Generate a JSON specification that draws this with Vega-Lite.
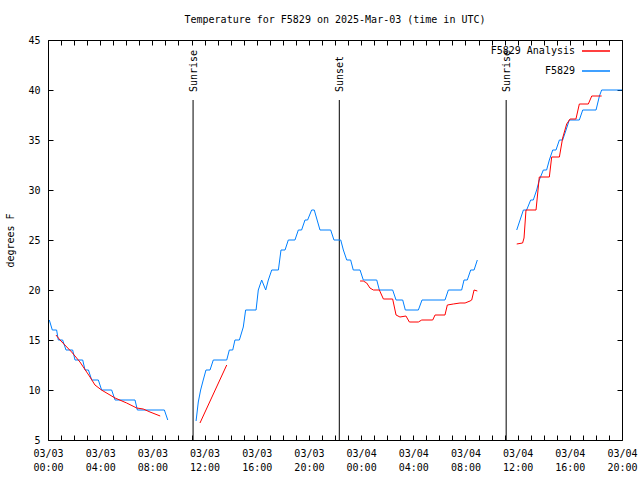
{
  "$schema": "https://vega.github.io/schema/vega-lite/v6.json",
  "width": 574,
  "height": 400,
  "autosize": {"type": "none"},
  "padding": {"left": 48, "top": 40, "right": 18, "bottom": 40},
  "title": {"text": "Temperature for F5829 on 2025-Mar-03 (time in UTC)", "offset": 10},
  "config": {
    "font": "DejaVu Sans Mono",
    "view": {"stroke": "black", "strokeWidth": 1},
    "axis": {"domainColor": "black", "tickColor": "black", "labelColor": "black", "titleColor": "black", "labelFont": "DejaVu Sans Mono", "titleFont": "DejaVu Sans Mono", "labelFontSize": 10, "titleFontSize": 10, "titleFontWeight": "normal", "grid": false},
    "legend": {"labelFont": "DejaVu Sans Mono", "labelFontSize": 10, "labelColor": "black"},
    "title": {"font": "DejaVu Sans Mono", "fontSize": 10, "fontWeight": "normal", "color": "black"}
  },
  "datasets": {
    "temps": [
      {"hour": 0.10, "temp": 17, "series": "F5829", "seg": "b1"},
      {"hour": 0.33, "temp": 16, "series": "F5829", "seg": "b1"},
      {"hour": 0.66, "temp": 16, "series": "F5829", "seg": "b1"},
      {"hour": 0.79, "temp": 15, "series": "F5829", "seg": "b1"},
      {"hour": 1.12, "temp": 15, "series": "F5829", "seg": "b1"},
      {"hour": 1.38, "temp": 14, "series": "F5829", "seg": "b1"},
      {"hour": 1.89, "temp": 14, "series": "F5829", "seg": "b1"},
      {"hour": 2.07, "temp": 13, "series": "F5829", "seg": "b1"},
      {"hour": 2.66, "temp": 13, "series": "F5829", "seg": "b1"},
      {"hour": 2.84, "temp": 12, "series": "F5829", "seg": "b1"},
      {"hour": 3.10, "temp": 12, "series": "F5829", "seg": "b1"},
      {"hour": 3.35, "temp": 11, "series": "F5829", "seg": "b1"},
      {"hour": 3.86, "temp": 11, "series": "F5829", "seg": "b1"},
      {"hour": 4.11, "temp": 10, "series": "F5829", "seg": "b1"},
      {"hour": 4.88, "temp": 10, "series": "F5829", "seg": "b1"},
      {"hour": 5.14, "temp": 9, "series": "F5829", "seg": "b1"},
      {"hour": 6.67, "temp": 9, "series": "F5829", "seg": "b1"},
      {"hour": 6.85, "temp": 8, "series": "F5829", "seg": "b1"},
      {"hour": 8.92, "temp": 8, "series": "F5829", "seg": "b1"},
      {"hour": 9.18, "temp": 7, "series": "F5829", "seg": "b1"},
      {"hour": 11.35, "temp": 6.9, "series": "F5829", "seg": "b2"},
      {"hour": 11.52, "temp": 8.8, "series": "F5829", "seg": "b2"},
      {"hour": 11.70, "temp": 10, "series": "F5829", "seg": "b2"},
      {"hour": 11.90, "temp": 11, "series": "F5829", "seg": "b2"},
      {"hour": 12.11, "temp": 12, "series": "F5829", "seg": "b2"},
      {"hour": 12.42, "temp": 12, "series": "F5829", "seg": "b2"},
      {"hour": 12.67, "temp": 13, "series": "F5829", "seg": "b2"},
      {"hour": 13.70, "temp": 13, "series": "F5829", "seg": "b2"},
      {"hour": 13.90, "temp": 14, "series": "F5829", "seg": "b2"},
      {"hour": 14.16, "temp": 14, "series": "F5829", "seg": "b2"},
      {"hour": 14.33, "temp": 15, "series": "F5829", "seg": "b2"},
      {"hour": 14.67, "temp": 15, "series": "F5829", "seg": "b2"},
      {"hour": 14.97, "temp": 16.3, "series": "F5829", "seg": "b2"},
      {"hour": 15.15, "temp": 18, "series": "F5829", "seg": "b2"},
      {"hour": 15.95, "temp": 18, "series": "F5829", "seg": "b2"},
      {"hour": 16.12, "temp": 20, "series": "F5829", "seg": "b2"},
      {"hour": 16.38, "temp": 21, "series": "F5829", "seg": "b2"},
      {"hour": 16.69, "temp": 20, "series": "F5829", "seg": "b2"},
      {"hour": 16.89, "temp": 21, "series": "F5829", "seg": "b2"},
      {"hour": 17.15, "temp": 22, "series": "F5829", "seg": "b2"},
      {"hour": 17.66, "temp": 22, "series": "F5829", "seg": "b2"},
      {"hour": 17.86, "temp": 24, "series": "F5829", "seg": "b2"},
      {"hour": 18.17, "temp": 24, "series": "F5829", "seg": "b2"},
      {"hour": 18.42, "temp": 25, "series": "F5829", "seg": "b2"},
      {"hour": 18.93, "temp": 25, "series": "F5829", "seg": "b2"},
      {"hour": 19.19, "temp": 26, "series": "F5829", "seg": "b2"},
      {"hour": 19.44, "temp": 26, "series": "F5829", "seg": "b2"},
      {"hour": 19.70, "temp": 27, "series": "F5829", "seg": "b2"},
      {"hour": 19.90, "temp": 27, "series": "F5829", "seg": "b2"},
      {"hour": 20.21, "temp": 28, "series": "F5829", "seg": "b2"},
      {"hour": 20.41, "temp": 28, "series": "F5829", "seg": "b2"},
      {"hour": 20.85, "temp": 26, "series": "F5829", "seg": "b2"},
      {"hour": 21.67, "temp": 26, "series": "F5829", "seg": "b2"},
      {"hour": 21.92, "temp": 25, "series": "F5829", "seg": "b2"},
      {"hour": 22.44, "temp": 25, "series": "F5829", "seg": "b2"},
      {"hour": 22.64, "temp": 24, "series": "F5829", "seg": "b2"},
      {"hour": 22.90, "temp": 23, "series": "F5829", "seg": "b2"},
      {"hour": 23.20, "temp": 23, "series": "F5829", "seg": "b2"},
      {"hour": 23.40, "temp": 22, "series": "F5829", "seg": "b2"},
      {"hour": 23.92, "temp": 22, "series": "F5829", "seg": "b2"},
      {"hour": 24.17, "temp": 21, "series": "F5829", "seg": "b2"},
      {"hour": 25.20, "temp": 21, "series": "F5829", "seg": "b2"},
      {"hour": 25.40, "temp": 20, "series": "F5829", "seg": "b2"},
      {"hour": 26.42, "temp": 20, "series": "F5829", "seg": "b2"},
      {"hour": 26.68, "temp": 19, "series": "F5829", "seg": "b2"},
      {"hour": 27.19, "temp": 19, "series": "F5829", "seg": "b2"},
      {"hour": 27.39, "temp": 18, "series": "F5829", "seg": "b2"},
      {"hour": 28.39, "temp": 18, "series": "F5829", "seg": "b2"},
      {"hour": 28.67, "temp": 19, "series": "F5829", "seg": "b2"},
      {"hour": 30.43, "temp": 19, "series": "F5829", "seg": "b2"},
      {"hour": 30.69, "temp": 20, "series": "F5829", "seg": "b2"},
      {"hour": 31.71, "temp": 20, "series": "F5829", "seg": "b2"},
      {"hour": 31.89, "temp": 21, "series": "F5829", "seg": "b2"},
      {"hour": 32.14, "temp": 21, "series": "F5829", "seg": "b2"},
      {"hour": 32.40, "temp": 22, "series": "F5829", "seg": "b2"},
      {"hour": 32.66, "temp": 22, "series": "F5829", "seg": "b2"},
      {"hour": 32.91, "temp": 23, "series": "F5829", "seg": "b2"},
      {"hour": 35.93, "temp": 26, "series": "F5829", "seg": "b3"},
      {"hour": 36.44, "temp": 28, "series": "F5829", "seg": "b3"},
      {"hour": 36.69, "temp": 28, "series": "F5829", "seg": "b3"},
      {"hour": 37.00, "temp": 29, "series": "F5829", "seg": "b3"},
      {"hour": 37.20, "temp": 29, "series": "F5829", "seg": "b3"},
      {"hour": 37.46, "temp": 30, "series": "F5829", "seg": "b3"},
      {"hour": 37.66, "temp": 31, "series": "F5829", "seg": "b3"},
      {"hour": 37.97, "temp": 32, "series": "F5829", "seg": "b3"},
      {"hour": 38.22, "temp": 32, "series": "F5829", "seg": "b3"},
      {"hour": 38.43, "temp": 33, "series": "F5829", "seg": "b3"},
      {"hour": 38.69, "temp": 34, "series": "F5829", "seg": "b3"},
      {"hour": 38.94, "temp": 34, "series": "F5829", "seg": "b3"},
      {"hour": 39.20, "temp": 35, "series": "F5829", "seg": "b3"},
      {"hour": 39.45, "temp": 35, "series": "F5829", "seg": "b3"},
      {"hour": 39.71, "temp": 36, "series": "F5829", "seg": "b3"},
      {"hour": 39.96, "temp": 37, "series": "F5829", "seg": "b3"},
      {"hour": 40.73, "temp": 37, "series": "F5829", "seg": "b3"},
      {"hour": 40.99, "temp": 38, "series": "F5829", "seg": "b3"},
      {"hour": 42.01, "temp": 38, "series": "F5829", "seg": "b3"},
      {"hour": 42.27, "temp": 39.4, "series": "F5829", "seg": "b3"},
      {"hour": 42.44, "temp": 40, "series": "F5829", "seg": "b3"},
      {"hour": 44.00, "temp": 40, "series": "F5829", "seg": "b3"},
      {"hour": 0.61, "temp": 15.5, "series": "F5829 Analysis", "seg": "r1"},
      {"hour": 0.92, "temp": 15, "series": "F5829 Analysis", "seg": "r1"},
      {"hour": 1.81, "temp": 13.8, "series": "F5829 Analysis", "seg": "r1"},
      {"hour": 2.45, "temp": 12.8, "series": "F5829 Analysis", "seg": "r1"},
      {"hour": 3.22, "temp": 11.3, "series": "F5829 Analysis", "seg": "r1"},
      {"hour": 3.60, "temp": 10.5, "series": "F5829 Analysis", "seg": "r1"},
      {"hour": 4.10, "temp": 10, "series": "F5829 Analysis", "seg": "r1"},
      {"hour": 5.14, "temp": 9.2, "series": "F5829 Analysis", "seg": "r1"},
      {"hour": 6.03, "temp": 8.7, "series": "F5829 Analysis", "seg": "r1"},
      {"hour": 6.80, "temp": 8.2, "series": "F5829 Analysis", "seg": "r1"},
      {"hour": 7.30, "temp": 8.1, "series": "F5829 Analysis", "seg": "r1"},
      {"hour": 7.82, "temp": 7.8, "series": "F5829 Analysis", "seg": "r1"},
      {"hour": 8.60, "temp": 7.4, "series": "F5829 Analysis", "seg": "r1"},
      {"hour": 11.65, "temp": 6.7, "series": "F5829 Analysis", "seg": "r2"},
      {"hour": 13.70, "temp": 12.5, "series": "F5829 Analysis", "seg": "r2"},
      {"hour": 23.92, "temp": 20.9, "series": "F5829 Analysis", "seg": "r3"},
      {"hour": 24.17, "temp": 20.9, "series": "F5829 Analysis", "seg": "r3"},
      {"hour": 24.43, "temp": 20.7, "series": "F5829 Analysis", "seg": "r3"},
      {"hour": 24.68, "temp": 20.2, "series": "F5829 Analysis", "seg": "r3"},
      {"hour": 24.94, "temp": 20, "series": "F5829 Analysis", "seg": "r3"},
      {"hour": 25.40, "temp": 20, "series": "F5829 Analysis", "seg": "r3"},
      {"hour": 25.71, "temp": 19.1, "series": "F5829 Analysis", "seg": "r3"},
      {"hour": 26.42, "temp": 19.1, "series": "F5829 Analysis", "seg": "r3"},
      {"hour": 26.68, "temp": 17.5, "series": "F5829 Analysis", "seg": "r3"},
      {"hour": 26.98, "temp": 17.3, "series": "F5829 Analysis", "seg": "r3"},
      {"hour": 27.44, "temp": 17.4, "series": "F5829 Analysis", "seg": "r3"},
      {"hour": 27.70, "temp": 16.8, "series": "F5829 Analysis", "seg": "r3"},
      {"hour": 28.39, "temp": 16.8, "series": "F5829 Analysis", "seg": "r3"},
      {"hour": 28.65, "temp": 17, "series": "F5829 Analysis", "seg": "r3"},
      {"hour": 29.49, "temp": 17, "series": "F5829 Analysis", "seg": "r3"},
      {"hour": 29.67, "temp": 17.5, "series": "F5829 Analysis", "seg": "r3"},
      {"hour": 30.43, "temp": 17.5, "series": "F5829 Analysis", "seg": "r3"},
      {"hour": 30.61, "temp": 18.5, "series": "F5829 Analysis", "seg": "r3"},
      {"hour": 31.07, "temp": 18.6, "series": "F5829 Analysis", "seg": "r3"},
      {"hour": 31.58, "temp": 18.7, "series": "F5829 Analysis", "seg": "r3"},
      {"hour": 31.97, "temp": 18.7, "series": "F5829 Analysis", "seg": "r3"},
      {"hour": 32.35, "temp": 18.9, "series": "F5829 Analysis", "seg": "r3"},
      {"hour": 32.48, "temp": 19, "series": "F5829 Analysis", "seg": "r3"},
      {"hour": 32.66, "temp": 20, "series": "F5829 Analysis", "seg": "r3"},
      {"hour": 32.91, "temp": 19.9, "series": "F5829 Analysis", "seg": "r3"},
      {"hour": 35.93, "temp": 24.6, "series": "F5829 Analysis", "seg": "r4"},
      {"hour": 36.38, "temp": 24.7, "series": "F5829 Analysis", "seg": "r4"},
      {"hour": 36.49, "temp": 25.2, "series": "F5829 Analysis", "seg": "r4"},
      {"hour": 36.64, "temp": 28, "series": "F5829 Analysis", "seg": "r4"},
      {"hour": 37.41, "temp": 28, "series": "F5829 Analysis", "seg": "r4"},
      {"hour": 37.54, "temp": 29.7, "series": "F5829 Analysis", "seg": "r4"},
      {"hour": 37.66, "temp": 31.3, "series": "F5829 Analysis", "seg": "r4"},
      {"hour": 38.43, "temp": 31.3, "series": "F5829 Analysis", "seg": "r4"},
      {"hour": 38.61, "temp": 33.3, "series": "F5829 Analysis", "seg": "r4"},
      {"hour": 39.20, "temp": 33.3, "series": "F5829 Analysis", "seg": "r4"},
      {"hour": 39.45, "temp": 35.2, "series": "F5829 Analysis", "seg": "r4"},
      {"hour": 39.76, "temp": 36.6, "series": "F5829 Analysis", "seg": "r4"},
      {"hour": 40.02, "temp": 37.1, "series": "F5829 Analysis", "seg": "r4"},
      {"hour": 40.47, "temp": 37.1, "series": "F5829 Analysis", "seg": "r4"},
      {"hour": 40.73, "temp": 38.6, "series": "F5829 Analysis", "seg": "r4"},
      {"hour": 41.42, "temp": 38.6, "series": "F5829 Analysis", "seg": "r4"},
      {"hour": 41.68, "temp": 39.4, "series": "F5829 Analysis", "seg": "r4"},
      {"hour": 42.44, "temp": 39.4, "series": "F5829 Analysis", "seg": "r4"}
    ],
    "sun": [
      {"hour": 11.12, "label": "Sunrise"},
      {"hour": 22.33, "label": "Sunset"},
      {"hour": 35.12, "label": "Sunrise"}
    ]
  },
  "layer": [
    {
      "data": {"name": "sun"},
      "mark": {"type": "rule", "color": "black", "strokeWidth": 1},
      "encoding": {
        "x": {"field": "hour", "type": "quantitative", "scale": {"domain": [0, 44], "nice": false},
          "axis": {"orient": "top", "title": null, "labels": false, "tickSize": -5, "domain": false, "values": [0,1,2,3,4,5,6,7,8,9,10,11,12,13,14,15,16,17,18,19,20,21,22,23,24,25,26,27,28,29,30,31,32,33,34,35,36,37,38,39,40,41,42,43,44]}},
        "y": {"datum": 5, "type": "quantitative", "scale": {"domain": [5, 45], "nice": false},
          "axis": {"orient": "right", "title": null, "labels": false, "tickSize": -5, "domain": false, "values": [5, 10, 15, 20, 25, 30, 35, 40, 45]}},
        "y2": {"datum": 39}
      }
    },
    {
      "data": {"name": "sun"},
      "mark": {"type": "text", "angle": 270, "align": "left", "baseline": "middle", "dx": 8, "dy": 1, "fontSize": 10, "font": "DejaVu Sans Mono", "color": "black"},
      "encoding": {
        "x": {"field": "hour", "type": "quantitative", "axis": null},
        "y": {"datum": 39, "type": "quantitative", "axis": null},
        "text": {"field": "label"}
      }
    },
    {
      "data": {"name": "temps"},
      "mark": {"type": "line", "strokeWidth": 1},
      "encoding": {
        "x": {"field": "hour", "type": "quantitative",
          "axis": {"orient": "bottom", "title": null, "tickSize": -5, "values": [0,1,2,3,4,5,6,7,8,9,10,11,12,13,14,15,16,17,18,19,20,21,22,23,24,25,26,27,28,29,30,31,32,33,34,35,36,37,38,39,40,41,42,43,44], "labelOverlap": false, "labelFlush": false, "labelPadding": 13, "labelLineHeight": 14, "labelBaseline": "top", "domain": false,
            "labelExpr": "datum.value % 4 == 0 ? [(datum.value < 24 ? '03/03' : '03/04'), ((datum.value % 24) < 10 ? '0' : '') + (datum.value % 24) + ':00'] : ''"}},
        "y": {"field": "temp", "type": "quantitative",
          "axis": {"orient": "left", "title": "degrees F", "tickSize": -5, "values": [5, 10, 15, 20, 25, 30, 35, 40, 45], "labelPadding": 13, "titlePadding": 12, "domain": false}},
        "color": {"field": "series", "type": "nominal",
          "scale": {"domain": ["F5829 Analysis", "F5829"], "range": ["#ff0000", "#0080ff"]},
          "legend": {"title": null, "orient": "none", "legendX": 533, "legendY": -4, "padding": 0, "symbolType": "stroke", "symbolSize": 784, "symbolStrokeWidth": 1.5, "labelAlign": "right", "labelOffset": -36, "rowPadding": -28}},
        "detail": {"field": "seg"}
      }
    }
  ],
  "resolve": {"axis": {"x": "independent", "y": "independent"}}
}
